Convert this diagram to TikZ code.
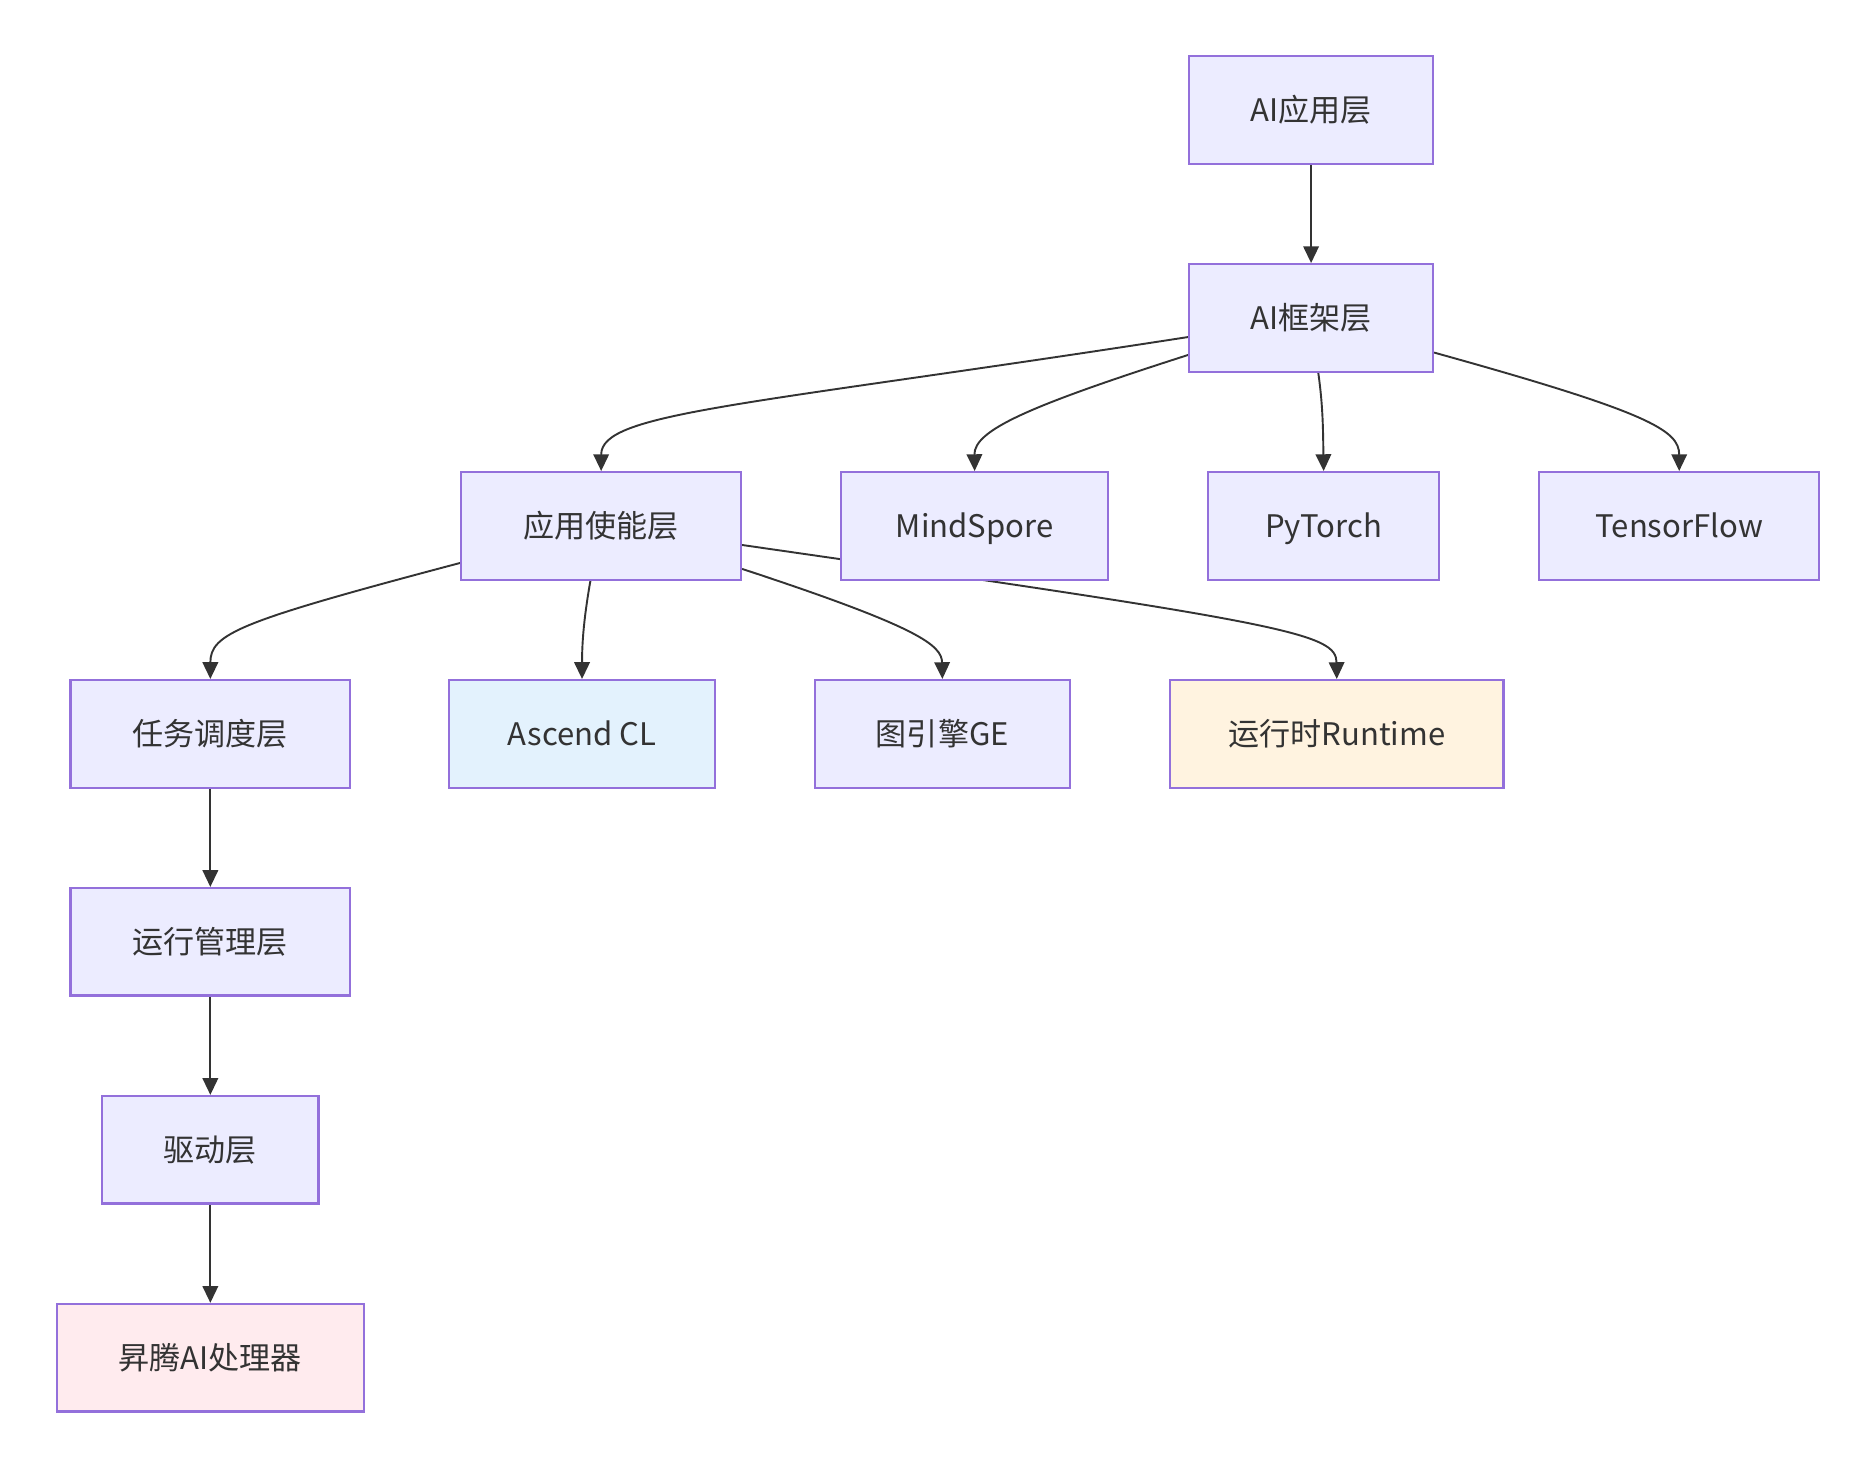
\documentclass[tikz,border=0pt]{standalone}
\usepackage{fontspec}
\setmainfont{Noto Sans CJK SC}
\usetikzlibrary{arrows.meta,backgrounds}

\definecolor{boxfill}{HTML}{ECECFF}
\definecolor{boxline}{HTML}{9370DB}
\definecolor{edgegray}{HTML}{333333}
\definecolor{textgray}{HTML}{333333}
\definecolor{aclfill}{HTML}{E3F2FD}
\definecolor{rtfill}{HTML}{FFF3E0}
\definecolor{chipfill}{HTML}{FFEBEE}

\def\layersep{174}

\begin{document}
\begin{tikzpicture}[x=1pt, y=-1pt, >={Triangle[length=14pt,width=13pt]}]
    \tikzstyle{layer}=[rectangle, draw=boxline, fill=boxfill, line width=1.8pt,
        minimum height=90pt, inner sep=0pt, text height=23pt, text depth=3pt,
        text=textgray, font=\fontsize{26}{30}\selectfont]
    \tikzstyle{link}=[->, draw=edgegray, line width=1.6pt]

    \useasboundingbox (0,0) rectangle (1568,1227.5);

    % top chain
    \node[layer, minimum width=204pt] (app) at (1097, 92) {AI应用层};
    \node[layer, minimum width=204pt] (fw) at (1097, 92+\layersep) {AI框架层};

    % frameworks
    \node[layer, minimum width=234pt] (en) at (503, 92+\layersep*2) {应用使能层};
    \node[layer, minimum width=223pt] (ms) at (815.5, 92+\layersep*2) {MindSpore};
    \node[layer, minimum width=193pt] (pt) at (1107.5, 92+\layersep*2) {PyTorch};
    \node[layer, minimum width=234pt] (tf) at (1405, 92+\layersep*2) {TensorFlow};

    % enabling layer
    \node[layer, minimum width=234pt] (ts) at (176, 92+\layersep*3) {任务调度层};
    \node[layer, minimum width=222pt, fill=aclfill] (acl) at (487, 92+\layersep*3) {Ascend CL};
    \node[layer, minimum width=213pt] (ge) at (788.5, 92+\layersep*3) {图引擎GE};
    \node[layer, minimum width=279pt, fill=rtfill] (rt) at (1118.5, 92+\layersep*3) {运行时Runtime};

    % lower chain
    \node[layer, minimum width=234pt] (rm) at (176, 92+\layersep*4) {运行管理层};
    \node[layer, minimum width=181pt] (drv) at (176, 92+\layersep*5) {驱动层};
    \node[layer, minimum width=257pt, fill=chipfill] (chip) at (176, 92+\layersep*6) {昇腾AI处理器};

    \begin{scope}[on background layer]
        \draw[link] (app) -- (fw);

        \draw[link] ([yshift=-16pt]fw.west) .. controls (620,340) and (503,345) .. (en.north);
        \draw[link] ([yshift=-31pt]fw.west) .. controls (860,340) and (815,360) .. (ms.north);
        \draw[link] ([xshift=6pt]fw.south) .. controls (1107,340) and (1107,360) .. (pt.north);
        \draw[link] ([yshift=-29pt]fw.east) .. controls (1380,345) and (1405,360) .. (tf.north);

        \draw[link] ([yshift=-31pt]en.west) .. controls (200,520) and (176,530) .. (ts.north);
        \draw[link] ([xshift=-9pt]en.south) .. controls (488,520) and (487,540) .. (acl.north);
        \draw[link] ([yshift=-36pt]en.east) .. controls (770,525) and (788,540) .. (ge.north);
        \draw[link] ([yshift=-16pt]en.east) .. controls (1080,522) and (1118,530) .. (rt.north);

        \draw[link] (ts) -- (rm);
        \draw[link] (rm) -- (drv);
        \draw[link] (drv) -- (chip);
    \end{scope}
\end{tikzpicture}
\end{document}
